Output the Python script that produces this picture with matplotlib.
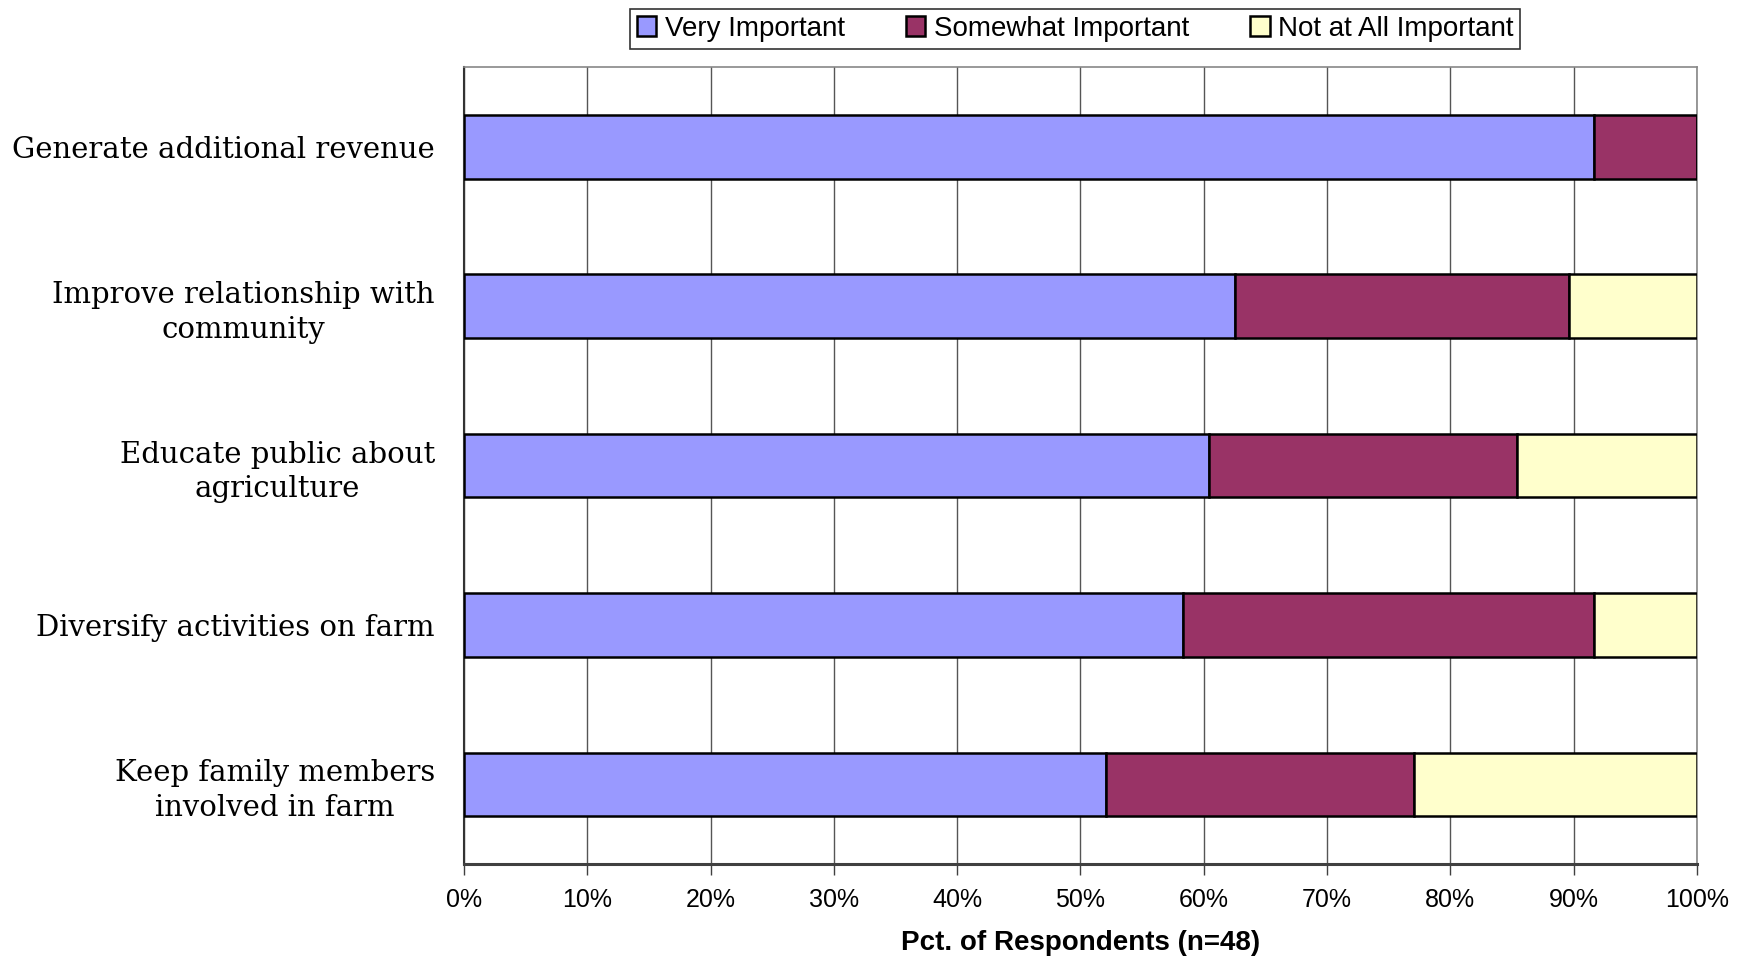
import matplotlib
matplotlib.use("Agg")
import matplotlib.pyplot as plt
import numpy as np

# survey results, n=48 respondents
categories = ["Generate additional revenue",
              "Improve relationship with\ncommunity",
              "Educate public about\nagriculture",
              "Diversify activities on farm",
              "Keep family members\ninvolved in farm"]
very = [91.67, 62.50, 60.42, 58.33, 52.08]
somewhat = [8.33, 27.08, 25.00, 33.33, 25.00]
not_at_all = [0.00, 10.42, 14.58, 8.33, 22.92]
series_names = ["Very Important", "Somewhat Important", "Not at All Important"]
xticks = [0, 10, 20, 30, 40, 50, 60, 70, 80, 90, 100]

colors = ["#9999FF", "#993366", "#FFFFCC"]
sans = ["Liberation Sans", "DejaVu Sans"]
serif = ["DejaVu Serif"]

fig = plt.figure(figsize=(17.54, 9.56), dpi=100)
ax = fig.add_axes([0.2645, 0.096, 0.703, 0.834])

y = np.arange(len(categories))
left = np.zeros(len(categories))
for vals, name, c in zip([very, somewhat, not_at_all], series_names, colors):
    vals = np.array(vals)
    ax.barh(y, vals, left=left, height=0.40, color=c, edgecolor="black",
            linewidth=1.8, label=name, zorder=3)
    left = left + vals

ax.set_xlim(0, 100)
ax.set_ylim(len(categories) - 0.5, -0.5)
ax.set_xticks(xticks)
ax.set_xticklabels([f"{t}%" for t in xticks], family=sans, fontsize=18)
ax.set_yticks(y)
ax.set_yticklabels(categories, family=serif, fontsize=21)
for lab in ax.get_yticklabels():
    lab.set_multialignment("center")
    lab.set_linespacing(1.3)
ax.tick_params(axis="y", length=0, pad=21)
ax.tick_params(axis="x", length=8, width=1, color="#404040", pad=9)

ax.grid(axis="x", color="#555555", linewidth=1.0, zorder=0)
ax.set_axisbelow(True)
for s in ["top", "right"]:
    ax.spines[s].set_color("#888888")
    ax.spines[s].set_linewidth(1.2)
ax.spines["left"].set_color("#333333")
ax.spines["left"].set_linewidth(1.5)
ax.spines["bottom"].set_color("#404040")
ax.spines["bottom"].set_linewidth(2.2)

ax.set_xlabel("Pct. of Respondents (n=48)", family=sans, fontsize=20,
              fontweight="bold", labelpad=13)

leg = fig.legend(loc="center", bbox_to_anchor=(0.613, 0.970), ncol=3,
                 prop={"family": sans, "size": 20}, frameon=True,
                 fancybox=False, edgecolor="black", handlelength=0.7,
                 handleheight=0.7, handletextpad=0.3, columnspacing=2.2,
                 borderpad=0.25, borderaxespad=0.2)
leg.get_frame().set_linewidth(1.2)

fig.savefig("out.png", dpi=100)
